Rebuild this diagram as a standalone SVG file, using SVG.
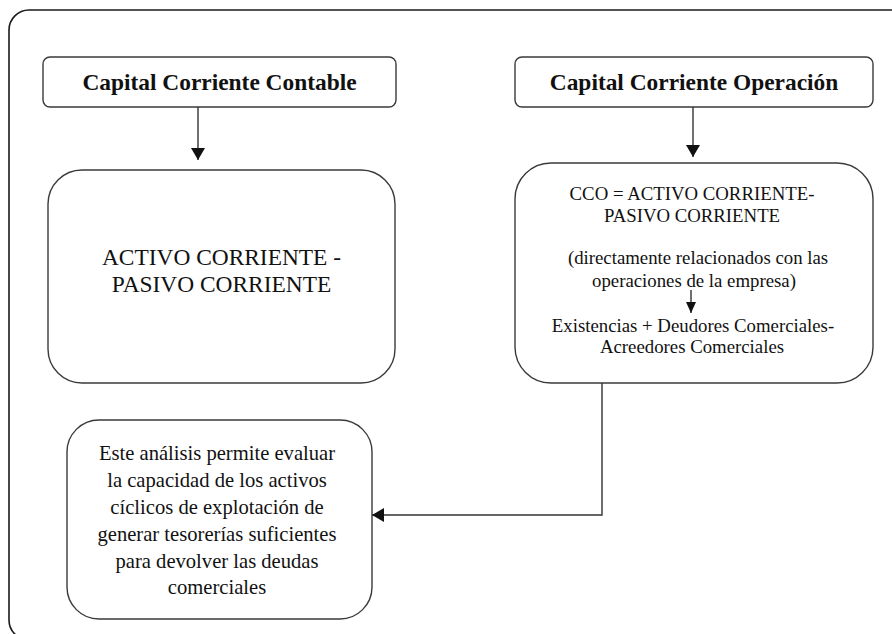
<svg xmlns="http://www.w3.org/2000/svg" width="892" height="634" viewBox="0 0 892 634">
<style>
.box{fill:#fff;stroke:#3a3a3a;stroke-width:1.4}
.frame{fill:#fff;stroke:#1a1a1a;stroke-width:1.6}
.t{font-family:"Liberation Serif","Times New Roman","DejaVu Serif",serif;fill:#111;text-anchor:middle}
.title{font-size:23.4px;font-weight:bold}
.big{font-size:23.4px}
.mid{font-size:20.6px}
.sm{font-size:18.8px}
.conn{fill:none;stroke:#333;stroke-width:1.4}
.head{fill:#111}
</style>
<defs>
<marker id="arr" viewBox="0 0 12 14" refX="12" refY="7" markerWidth="12" markerHeight="14" markerUnits="userSpaceOnUse" orient="auto">
<path d="M0,0 L12,7 L0,14 Z" class="head"/>
</marker>
<marker id="arrs" viewBox="0 0 11 10" refX="11" refY="5" markerWidth="11" markerHeight="10" markerUnits="userSpaceOnUse" orient="auto">
<path d="M0,0 L11,5 L0,10 Z" class="head"/>
</marker>
</defs>
<rect x="0" y="0" width="892" height="634" fill="#fff"/>
<rect class="frame" x="9" y="10" width="920" height="630" rx="20"/>

<g id="node-contable">
<rect class="box" x="43" y="57" width="353" height="50" rx="7"/>
<text class="t title" x="219.5" y="90">Capital Corriente Contable</text>
</g>

<g id="node-operacion">
<rect class="box" x="515" y="57" width="358" height="50" rx="7"/>
<text class="t title" x="694" y="90">Capital Corriente Operación</text>
</g>

<g id="node-activo">
<rect class="box" x="48" y="170" width="347" height="213" rx="34"/>
<text class="t big" x="221.5" y="265">ACTIVO CORRIENTE -</text>
<text class="t big" x="221.5" y="292">PASIVO CORRIENTE</text>
</g>

<g id="node-cco">
<rect class="box" x="515" y="163" width="358" height="220" rx="36"/>
<text class="t sm" x="692" y="200">CCO = ACTIVO CORRIENTE-</text>
<text class="t sm" x="692" y="222">PASIVO CORRIENTE</text>
<text class="t sm" x="698" y="264">(directamente relacionados con las</text>
<text class="t sm" x="694" y="287">operaciones de la empresa)</text>
<text class="t sm" x="693" y="332">Existencias + Deudores Comerciales-</text>
<text class="t sm" x="692" y="353">Acreedores Comerciales</text>
</g>

<g id="node-analisis">
<rect class="box" x="67" y="420" width="305" height="199" rx="32"/>
<text class="t mid" x="217" y="460">Este análisis permite evaluar</text>
<text class="t mid" x="217" y="487">la capacidad de los activos</text>
<text class="t mid" x="217" y="514">cíclicos de explotación de</text>
<text class="t mid" x="217" y="541">generar tesorerías suficientes</text>
<text class="t mid" x="217" y="568">para devolver las deudas</text>
<text class="t mid" x="217" y="594">comerciales</text>
</g>

<g id="connectors">
<line class="conn" x1="198" y1="107" x2="198" y2="160" marker-end="url(#arr)"/>
<line class="conn" x1="693" y1="107" x2="693" y2="157" marker-end="url(#arr)"/>
<polyline class="conn" points="602,383 602,515 372,515" marker-end="url(#arr)"/>
<line class="conn" x1="691" y1="290" x2="691" y2="313" marker-end="url(#arrs)"/>
</g>
</svg>
